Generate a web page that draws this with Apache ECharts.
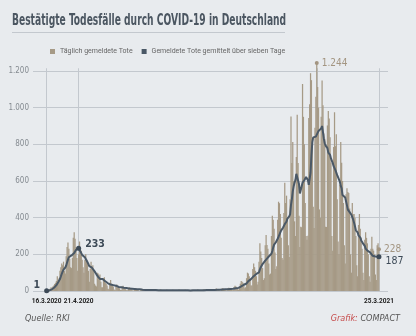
<!DOCTYPE html>
<html><head><meta charset="utf-8">
<script src="https://cdn.jsdelivr.net/npm/echarts@6/dist/echarts.min.js"></script>
<style>html,body{margin:0;padding:0;background:#e8ebee;}#c{width:416px;height:336px;}</style>
</head><body><div id="c"></div>
<script>
const FONT = '"Liberation Sans Narrow", "DejaVu Sans Condensed", Roboto, sans-serif';
const LFONT = 'Roboto, "Liberation Sans", sans-serif';
const titleText = 'Bestätigte Todesfälle durch COVID-19 in Deutschland';
const seriesNames = ['Täglich gemeldete Tote', 'Gemeldete Tote gemittelt über sieben Tage'];
const startDate = [2020, 3, 16];
const dailyDeaths = [
1,3,6,9,12,20,14,
25,30,38,45,55,80,60,
70,110,130,150,140,160,110,
95,190,240,265,230,175,130,
125,180,290,320,285,240,180,
110,200,270,230,220,170,130,
100,170,200,170,150,110,50,
120,160,130,140,110,40,30,
25,100,95,85,90,50,20,
20,70,75,45,40,30,12,
10,45,60,40,35,25,8,
5,30,35,28,25,15,6,
6,25,28,20,18,10,4,
4,18,20,15,12,8,3,
3,15,14,12,10,5,2,
2,10,12,8,6,4,1,
1,8,10,8,6,3,1,
1,7,9,6,5,2,0,
1,6,8,7,5,3,0,
1,5,7,6,4,2,1,
0,6,7,6,4,2,0,
1,5,8,6,5,2,1,
1,6,7,5,4,2,0,
1,5,6,7,5,3,1,
1,6,8,6,5,2,1,
1,7,9,7,6,3,1,
2,8,10,9,7,4,1,
2,10,13,10,8,5,2,
3,12,15,13,10,6,3,
4,15,18,16,14,9,4,
6,22,28,25,20,14,6,
15,40,55,50,45,30,15,
20,70,100,95,80,60,30,
30,120,150,130,110,80,35,
50,160,261,215,180,125,60,
70,250,305,251,230,150,90,
95,300,410,389,340,210,120,
135,388,487,479,420,290,180,
170,425,590,480,520,400,250,
185,500,952,698,813,600,380,
300,731,962,698,410,240,350,
348,1129,950,800,480,300,280,
302,944,1019,1188,1150,800,460,
343,891,1060,1244,1113,1000,445,
400,950,1148,1013,859,830,350,
349,903,982,941,839,700,300,
220,786,975,790,855,500,270,
200,580,813,700,600,480,250,
150,528,560,540,534,450,200,
100,480,419,420,400,300,140,
80,360,420,340,290,230,100,
60,280,320,290,260,200,80,
50,230,296,230,220,200,90,
60,250,260,228
];
const avgDeaths = [
1,1,2,3,5,7,9,
13,17,21,26,32,41,48,
54,65,79,94,106,117,124,
128,139,155,171,184,186,189,
194,192,199,207,215,224,231,
229,233,229,216,207,197,190,
189,184,174,166,156,147,136,
139,137,127,123,117,107,104,
91,82,77,69,66,68,66,
66,61,59,53,46,43,42,
40,37,35,34,33,32,32,
31,29,25,24,22,21,21,
21,20,19,18,17,16,16,
16,15,13,13,12,12,11,
11,11,10,10,9,9,9,
9,8,8,7,6,6,6,
6,6,5,5,5,5,5,
5,5,5,5,5,4,4,
4,4,4,4,4,4,4,
4,4,4,4,4,4,4,
4,4,4,4,4,4,4,
4,4,4,4,4,4,4,
4,4,4,4,4,4,4,
4,3,3,4,4,4,4,
4,4,4,4,4,4,4,
4,4,4,5,5,5,5,
5,5,5,6,6,6,6,
6,6,7,7,7,7,7,
7,8,8,8,9,9,9,
9,9,10,10,11,11,11,
12,13,14,15,16,17,17,
19,21,25,29,32,34,36,
36,41,47,54,59,63,65,
66,74,81,86,90,93,94,
96,102,118,130,140,147,150,
153,166,172,177,184,188,192,
196,203,218,238,253,262,266,
272,285,296,308,320,331,340,
345,350,365,365,379,395,405,
407,418,470,501,543,571,590,
606,639,641,641,583,532,527,
534,591,589,604,614,622,612,
606,579,589,645,740,812,838,
843,836,842,850,844,873,871,
879,887,900,867,831,806,793,
786,779,755,745,742,723,716,
698,681,680,659,661,632,628,
625,596,573,560,523,520,518,
510,503,467,444,435,430,423,
416,409,389,372,353,331,323,
320,303,303,291,276,266,260,
257,246,231,224,220,216,213,
211,204,201,192,187,187,188,
189,192,187,187
];
const tickLabels = ['16.3.2020', '21.4.2020', '25.3.2021'];
const gridDates = ['16.3.2020', '21.4.2020', '14.1.2021', '25.3.2021'];
const dailyNotes = [['14.1.2021', 1244, '1.244'], ['25.3.2021', 228, '228']];
const avgNotes = [['16.3.2020', 1, '1'], ['21.4.2020', 233, '233'], ['25.3.2021', 187, '187']];
const yMax = 1200, yStep = 200;

const categories = dailyDeaths.map(function (_, i) {
  const d = new Date(startDate[0], startDate[1] - 1, startDate[2] + i);
  return d.getDate() + '.' + (d.getMonth() + 1) + '.' + d.getFullYear();
});
const fmtNum = function (v) { return v >= 1000 ? String(v).replace(/(\d)(\d{3})$/, '$1.$2') : String(v); };

const TAN = '#a69a86', DARK = '#4a5866', TAN_TXT = '#a39581', DARK_TXT = '#3d4a57', GRID = '#c3c8ce';
const PLOT_TOP = 71, PLOT_BOTTOM = 45, PLOT_H = 336 - PLOT_TOP - PLOT_BOTTOM;
const HEAD = 1300;
const dataTop = PLOT_TOP - (HEAD - yMax) * PLOT_H / yMax;

const chart = echarts.init(document.getElementById('c'), null, {renderer: 'canvas'});
chart.setOption({
  animation: false,
  backgroundColor: '#e8ebee',
  textStyle: {fontFamily: FONT},
  legend: {
    data: seriesNames, left: 45, top: 43, icon: 'rect', itemWidth: 5, itemHeight: 5, itemGap: 9,
    textStyle: {fontSize: 7, color: '#666', fontFamily: LFONT}
  },
  grid: [
    {left: 33, right: 28, top: PLOT_TOP, bottom: PLOT_BOTTOM},
    {left: 46.2, right: 36.6, top: dataTop, bottom: PLOT_BOTTOM}
  ],
  xAxis: [
    {gridIndex: 0, type: 'value', show: false, min: 0, max: 1},
    {gridIndex: 1, type: 'category', data: categories, boundaryGap: true,
      axisLine: {show: false}, axisTick: {show: false}, splitLine: {show: false},
      axisLabel: {interval: function (i, v) { return tickLabels.indexOf(v) >= 0; },
        fontSize: 6.5, fontWeight: 'bold', color: '#222', margin: 7, fontFamily: LFONT}
    }
  ],
  yAxis: [
    {gridIndex: 0, type: 'value', min: 0, max: yMax, interval: yStep,
      axisLine: {show: false}, axisTick: {show: false},
      axisLabel: {formatter: fmtNum, fontSize: 8, color: '#858b91', margin: 4, fontFamily: FONT},
      splitLine: {lineStyle: {color: GRID, width: 1}}},
    {gridIndex: 1, type: 'value', min: 0, max: HEAD, show: false, splitLine: {show: false}}
  ],
  series: [
    {name: seriesNames[0], type: 'bar', xAxisIndex: 1, yAxisIndex: 1, data: dailyDeaths,
      barWidth: 1.25, itemStyle: {color: TAN}, z: 2,
      markLine: {silent: true, symbol: 'none', label: {show: false}, z: 1,
        lineStyle: {color: GRID, type: 'solid', width: 1},
        data: gridDates.map(function (d) { return [{coord: [d, 0]}, {coord: [d, yMax + 15]}]; })},
      markPoint: {symbol: 'circle', symbolSize: 4, itemStyle: {color: TAN_TXT},
        label: {show: true, position: 'right', distance: 3, formatter: '{b}', color: TAN_TXT, fontSize: 10, fontFamily: FONT},
        data: dailyNotes.map(function (n) { return {name: n[2], coord: [n[0], n[1]]}; })}
    },
    {name: seriesNames[1], type: 'line', xAxisIndex: 1, yAxisIndex: 1, data: avgDeaths,
      symbol: 'none', lineStyle: {color: DARK, width: 2}, itemStyle: {color: DARK}, z: 3,
      markPoint: {symbol: 'circle', symbolSize: 5, itemStyle: {color: DARK_TXT},
        label: {show: true, position: 'right', distance: 4, formatter: '{b}', color: DARK_TXT, fontSize: 10.5, fontWeight: 'bold', fontFamily: FONT},
        data: avgNotes.map(function (n, i) {
          const o = {name: n[2], coord: [n[0], n[1]]};
          if (i === 0) o.label = {position: 'left', offset: [0, -6]};
          if (i === 1) o.label = {offset: [0, -4]};
          if (i === 2) o.label = {offset: [0, 5], fontWeight: 'normal'};
          return o;
        })}
    }
  ],
  graphic: [
    {type: 'text', x: 12, y: 21.2, scaleX: 0.635, style: {text: titleText, font: 'bold 16px ' + FONT, fill: '#4b5661', verticalAlign: 'middle'}},
    {type: 'line', shape: {x1: 12, y1: 32.5, x2: 285, y2: 32.5}, style: {stroke: GRID, lineWidth: 1}},
    {type: 'text', x: 25, y: 318.5, style: {text: 'Quelle: RKI', font: 'italic 9px ' + FONT, fill: '#555', verticalAlign: 'middle'}},
    {type: 'text', x: 400, y: 318.5, style: {text: '{a|Grafik:} {b|COMPACT}', font: 'italic 9px ' + FONT, align: 'right', verticalAlign: 'middle',
      rich: {a: {fill: '#c64b4b', font: 'italic 9px ' + FONT}, b: {fill: '#555', font: 'italic 9px ' + FONT}}}}
  ]
});
</script></body></html>
